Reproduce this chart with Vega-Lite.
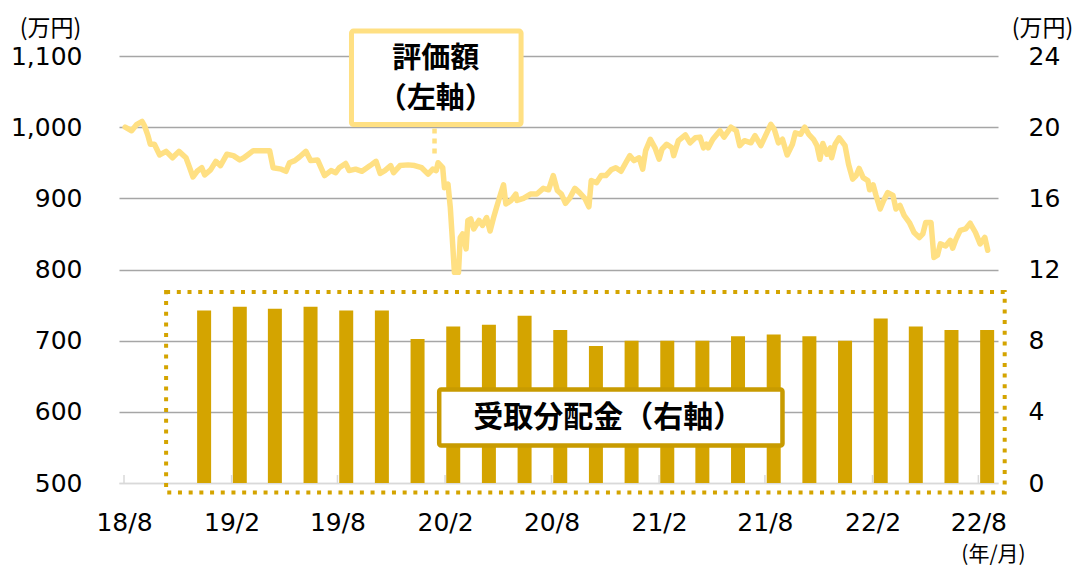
{
  "$schema": "https://vega.github.io/schema/vega-lite/v6.json",
  "width": 879,
  "height": 427,
  "autosize": {"type": "none"},
  "padding": {"left": 119, "top": 56, "right": 80, "bottom": 82},
  "config": {
    "view": {"stroke": null},
    "axis": {
      "labelFont": "DejaVu Sans",
      "labelFontSize": 25,
      "labelColor": "#000000",
      "titleFont": "Noto Sans CJK JP",
      "titleFontSize": 23,
      "titleFontWeight": "normal",
      "titleColor": "#000000"
    }
  },
  "datasets": {
    "bars": [
      {"date": "2018-12-16", "d": 9.7},
      {"date": "2019-02-15", "d": 9.9},
      {"date": "2019-04-16", "d": 9.8},
      {"date": "2019-06-16", "d": 9.9},
      {"date": "2019-08-16", "d": 9.7},
      {"date": "2019-10-16", "d": 9.7},
      {"date": "2019-12-16", "d": 8.1},
      {"date": "2020-02-15", "d": 8.8},
      {"date": "2020-04-16", "d": 8.9},
      {"date": "2020-06-16", "d": 9.4},
      {"date": "2020-08-16", "d": 8.6},
      {"date": "2020-10-16", "d": 7.7},
      {"date": "2020-12-16", "d": 8.0},
      {"date": "2021-02-15", "d": 8.0},
      {"date": "2021-04-16", "d": 8.0},
      {"date": "2021-06-16", "d": 8.25},
      {"date": "2021-08-16", "d": 8.35},
      {"date": "2021-10-16", "d": 8.25},
      {"date": "2021-12-16", "d": 8.0},
      {"date": "2022-02-15", "d": 9.25},
      {"date": "2022-04-16", "d": 8.8},
      {"date": "2022-06-16", "d": 8.6},
      {"date": "2022-08-16", "d": 8.6}
    ],
    "line": [
      {"date": "2018-08-03", "v": 1000}, {"date": "2018-08-14", "v": 995}, {"date": "2018-08-23", "v": 1004},
      {"date": "2018-09-01", "v": 1008}, {"date": "2018-09-05", "v": 1002}, {"date": "2018-09-11", "v": 988},
      {"date": "2018-09-15", "v": 976}, {"date": "2018-09-22", "v": 976}, {"date": "2018-10-01", "v": 961},
      {"date": "2018-10-12", "v": 966}, {"date": "2018-10-23", "v": 957}, {"date": "2018-11-03", "v": 966},
      {"date": "2018-11-15", "v": 957}, {"date": "2018-11-20", "v": 946}, {"date": "2018-11-27", "v": 930},
      {"date": "2018-12-04", "v": 938}, {"date": "2018-12-12", "v": 943}, {"date": "2018-12-17", "v": 933},
      {"date": "2018-12-27", "v": 940}, {"date": "2019-01-05", "v": 952}, {"date": "2019-01-13", "v": 946},
      {"date": "2019-01-24", "v": 962}, {"date": "2019-02-04", "v": 960}, {"date": "2019-02-15", "v": 954},
      {"date": "2019-02-22", "v": 957}, {"date": "2019-03-02", "v": 962}, {"date": "2019-03-10", "v": 967},
      {"date": "2019-04-07", "v": 967}, {"date": "2019-04-13", "v": 943}, {"date": "2019-04-27", "v": 941},
      {"date": "2019-05-05", "v": 938}, {"date": "2019-05-11", "v": 950}, {"date": "2019-05-20", "v": 953},
      {"date": "2019-05-28", "v": 958}, {"date": "2019-06-08", "v": 966}, {"date": "2019-06-16", "v": 953},
      {"date": "2019-06-28", "v": 954}, {"date": "2019-07-05", "v": 941}, {"date": "2019-07-10", "v": 932},
      {"date": "2019-07-21", "v": 939}, {"date": "2019-07-29", "v": 936}, {"date": "2019-08-04", "v": 943},
      {"date": "2019-08-15", "v": 949}, {"date": "2019-08-21", "v": 939}, {"date": "2019-09-01", "v": 941},
      {"date": "2019-09-12", "v": 938}, {"date": "2019-09-26", "v": 946}, {"date": "2019-10-06", "v": 952},
      {"date": "2019-10-13", "v": 935}, {"date": "2019-10-21", "v": 939}, {"date": "2019-10-31", "v": 946},
      {"date": "2019-11-05", "v": 936}, {"date": "2019-11-16", "v": 946}, {"date": "2019-11-30", "v": 947},
      {"date": "2019-12-11", "v": 946}, {"date": "2019-12-23", "v": 943}, {"date": "2020-01-03", "v": 934},
      {"date": "2020-01-11", "v": 941}, {"date": "2020-01-17", "v": 939}, {"date": "2020-01-20", "v": 950},
      {"date": "2020-01-28", "v": 943}, {"date": "2020-01-31", "v": 915}, {"date": "2020-02-06", "v": 920},
      {"date": "2020-02-10", "v": 887}, {"date": "2020-02-14", "v": 836}, {"date": "2020-02-17", "v": 796},
      {"date": "2020-02-24", "v": 796}, {"date": "2020-02-27", "v": 845}, {"date": "2020-03-02", "v": 850},
      {"date": "2020-03-08", "v": 829}, {"date": "2020-03-11", "v": 869}, {"date": "2020-03-16", "v": 871},
      {"date": "2020-03-21", "v": 857}, {"date": "2020-03-30", "v": 869}, {"date": "2020-04-05", "v": 862},
      {"date": "2020-04-12", "v": 873}, {"date": "2020-04-18", "v": 854}, {"date": "2020-04-24", "v": 873},
      {"date": "2020-04-29", "v": 887}, {"date": "2020-05-06", "v": 906}, {"date": "2020-05-11", "v": 919},
      {"date": "2020-05-15", "v": 892}, {"date": "2020-05-24", "v": 897}, {"date": "2020-06-01", "v": 906},
      {"date": "2020-06-03", "v": 897}, {"date": "2020-06-14", "v": 900}, {"date": "2020-06-26", "v": 906},
      {"date": "2020-07-07", "v": 906}, {"date": "2020-07-18", "v": 914}, {"date": "2020-07-27", "v": 912},
      {"date": "2020-08-04", "v": 932}, {"date": "2020-08-11", "v": 911}, {"date": "2020-08-18", "v": 906},
      {"date": "2020-08-25", "v": 893}, {"date": "2020-09-01", "v": 900}, {"date": "2020-09-10", "v": 914},
      {"date": "2020-09-18", "v": 908}, {"date": "2020-09-27", "v": 900}, {"date": "2020-10-04", "v": 888},
      {"date": "2020-10-08", "v": 925}, {"date": "2020-10-17", "v": 922}, {"date": "2020-10-25", "v": 932},
      {"date": "2020-11-02", "v": 932}, {"date": "2020-11-11", "v": 940}, {"date": "2020-11-19", "v": 943},
      {"date": "2020-11-28", "v": 938}, {"date": "2020-12-06", "v": 950}, {"date": "2020-12-13", "v": 960},
      {"date": "2020-12-20", "v": 953}, {"date": "2020-12-29", "v": 957}, {"date": "2021-01-04", "v": 941},
      {"date": "2021-01-09", "v": 967}, {"date": "2021-01-17", "v": 983}, {"date": "2021-01-25", "v": 971},
      {"date": "2021-02-01", "v": 955}, {"date": "2021-02-06", "v": 969}, {"date": "2021-02-14", "v": 976},
      {"date": "2021-02-23", "v": 971}, {"date": "2021-02-26", "v": 960}, {"date": "2021-03-06", "v": 981},
      {"date": "2021-03-18", "v": 989}, {"date": "2021-03-26", "v": 978}, {"date": "2021-04-04", "v": 985},
      {"date": "2021-04-12", "v": 986}, {"date": "2021-04-18", "v": 971}, {"date": "2021-04-23", "v": 976},
      {"date": "2021-04-26", "v": 971}, {"date": "2021-05-04", "v": 983}, {"date": "2021-05-16", "v": 995},
      {"date": "2021-05-23", "v": 986}, {"date": "2021-06-04", "v": 1000}, {"date": "2021-06-13", "v": 995},
      {"date": "2021-06-19", "v": 974}, {"date": "2021-06-27", "v": 981}, {"date": "2021-07-08", "v": 978},
      {"date": "2021-07-15", "v": 988}, {"date": "2021-07-25", "v": 974}, {"date": "2021-08-03", "v": 990},
      {"date": "2021-08-11", "v": 1004}, {"date": "2021-08-17", "v": 997}, {"date": "2021-08-24", "v": 978},
      {"date": "2021-08-31", "v": 983}, {"date": "2021-09-08", "v": 961}, {"date": "2021-09-17", "v": 976},
      {"date": "2021-09-22", "v": 992}, {"date": "2021-10-01", "v": 990}, {"date": "2021-10-08", "v": 1000},
      {"date": "2021-10-15", "v": 990}, {"date": "2021-10-23", "v": 983}, {"date": "2021-10-29", "v": 974},
      {"date": "2021-11-03", "v": 955}, {"date": "2021-11-08", "v": 977}, {"date": "2021-11-15", "v": 962},
      {"date": "2021-11-21", "v": 971}, {"date": "2021-11-23", "v": 957}, {"date": "2021-11-29", "v": 976},
      {"date": "2021-12-06", "v": 985}, {"date": "2021-12-16", "v": 974}, {"date": "2021-12-22", "v": 948},
      {"date": "2021-12-29", "v": 927}, {"date": "2022-01-04", "v": 932}, {"date": "2022-01-09", "v": 942},
      {"date": "2022-01-16", "v": 929}, {"date": "2022-01-24", "v": 925}, {"date": "2022-01-27", "v": 912},
      {"date": "2022-02-02", "v": 919}, {"date": "2022-02-07", "v": 904}, {"date": "2022-02-14", "v": 885},
      {"date": "2022-02-20", "v": 897}, {"date": "2022-02-27", "v": 908}, {"date": "2022-03-08", "v": 904},
      {"date": "2022-03-13", "v": 885}, {"date": "2022-03-20", "v": 890}, {"date": "2022-03-27", "v": 876},
      {"date": "2022-04-05", "v": 866}, {"date": "2022-04-13", "v": 852}, {"date": "2022-04-22", "v": 845},
      {"date": "2022-04-28", "v": 850}, {"date": "2022-05-03", "v": 866}, {"date": "2022-05-12", "v": 866},
      {"date": "2022-05-17", "v": 817}, {"date": "2022-05-23", "v": 820}, {"date": "2022-05-28", "v": 836},
      {"date": "2022-06-06", "v": 833}, {"date": "2022-06-14", "v": 841}, {"date": "2022-06-18", "v": 830},
      {"date": "2022-06-24", "v": 843}, {"date": "2022-07-01", "v": 855}, {"date": "2022-07-10", "v": 857},
      {"date": "2022-07-18", "v": 865}, {"date": "2022-07-27", "v": 852}, {"date": "2022-08-04", "v": 836},
      {"date": "2022-08-12", "v": 845}, {"date": "2022-08-17", "v": 827}
    ],
    "ticks": [
      {"date": "2018-08-01", "v": 500, "v2": 511.2},
      {"date": "2019-02-01", "v": 500, "v2": 511.2},
      {"date": "2019-08-01", "v": 500, "v2": 511.2},
      {"date": "2020-02-01", "v": 500, "v2": 511.2},
      {"date": "2020-08-01", "v": 500, "v2": 511.2},
      {"date": "2021-02-01", "v": 500, "v2": 511.2},
      {"date": "2021-08-01", "v": 500, "v2": 511.2},
      {"date": "2022-02-01", "v": 500, "v2": 511.2},
      {"date": "2022-08-01", "v": 500, "v2": 511.2}
    ],
    "connector": [{"date": "2020-01-14", "v": 998, "v2": 958}],
    "box1": [{"date": "2019-08-25", "date2": "2020-06-10", "v": 1135, "v2": 1003.7}],
    "label1": [
      {"date": "2020-01-16", "v": 1096, "t": "評価額"},
      {"date": "2020-01-16", "v": 1040, "t": "（左軸）"}
    ],
    "box2": [{"date": "2018-10-12", "date2": "2022-09-15", "v": 768.4, "v2": 486.7}],
    "box3": [{"date": "2020-01-22", "date2": "2021-08-31", "v": 631.4, "v2": 552.7}],
    "label2": [{"date": "2020-11-06", "v": 591.4, "t": "受取分配金（右軸）"}]
  },
  "encoding": {
    "x": {
      "field": "date",
      "type": "temporal",
      "scale": {
        "type": "utc",
        "domain": [
          {"year": 2018, "month": 8, "date": 1, "utc": true},
          {"year": 2022, "month": 8, "date": 26, "utc": true}
        ]
      },
      "axis": {
        "values": [
          {"year": 2018, "month": 8, "date": 1, "utc": true},
          {"year": 2019, "month": 2, "date": 1, "utc": true},
          {"year": 2019, "month": 8, "date": 1, "utc": true},
          {"year": 2020, "month": 2, "date": 1, "utc": true},
          {"year": 2020, "month": 8, "date": 1, "utc": true},
          {"year": 2021, "month": 2, "date": 1, "utc": true},
          {"year": 2021, "month": 8, "date": 1, "utc": true},
          {"year": 2022, "month": 2, "date": 1, "utc": true},
          {"year": 2022, "month": 8, "date": 1, "utc": true}
        ],
        "format": "%y/%-m",
        "labelPadding": 27,
        "labelFlush": false,
        "labelOverlap": false,
        "ticks": false,
        "grid": false,
        "domainColor": "#D9D9D9",
        "domainWidth": 1.5,
        "title": "(年/月)",
        "titleX": 874,
        "titleY": 71,
        "titleFontSize": 21,
        "titleAngle": 0,
        "titleAlign": "center",
        "titleBaseline": "middle"
      }
    }
  },
  "layer": [
    {
      "data": {"name": "bars"},
      "mark": {"type": "bar", "size": 14, "color": "#D4A400"},
      "encoding": {
        "y": {
          "field": "d",
          "type": "quantitative",
          "scale": {"domain": [0, 24], "nice": false},
          "axis": {
            "orient": "right",
            "values": [0, 4, 8, 12, 16, 20, 24],
            "grid": false,
            "domain": false,
            "ticks": false,
            "labelPadding": 30,
            "labelAlign": "left",
            "title": "(万円)",
            "titleX": 44,
            "titleY": -28,
            "titleAngle": 0,
            "titleAlign": "center",
            "titleBaseline": "middle"
          }
        }
      }
    },
    {
      "encoding": {
        "y": {
          "field": "v",
          "type": "quantitative",
          "scale": {"domain": [500, 1100], "nice": false, "zero": false},
          "axis": {
            "orient": "left",
            "values": [500, 600, 700, 800, 900, 1000, 1100],
            "format": ",.0f",
            "grid": true,
            "gridColor": {"condition": {"test": "datum.value === 500", "value": "#D9D9D9"}, "value": "#A6A6A6"},
            "gridWidth": 1.5,
            "domain": false,
            "ticks": false,
            "labelPadding": 37,
            "title": "(万円)",
            "titleX": -69,
            "titleY": -28,
            "titleAngle": 0,
            "titleAlign": "center",
            "titleBaseline": "middle"
          }
        }
      },
      "layer": [
        {
          "data": {"name": "ticks"},
          "mark": {"type": "rule", "color": "#D9D9D9", "strokeWidth": 1.5},
          "encoding": {"y2": {"field": "v2"}}
        },
        {
          "data": {"name": "line"},
          "mark": {"type": "line", "color": "#FFE083", "strokeWidth": 5.5, "strokeJoin": "round", "strokeCap": "round"},
          "encoding": {}
        },
        {
          "data": {"name": "connector"},
          "mark": {"type": "rule", "color": "#FFE083", "strokeWidth": 4.5, "strokeDash": [5, 5]},
          "encoding": {"y2": {"field": "v2"}}
        },
        {
          "data": {"name": "box1"},
          "mark": {"type": "rect", "fill": "#FFFFFF", "stroke": "#FFE083", "strokeWidth": 5, "cornerRadius": 2},
          "encoding": {"x2": {"field": "date2"}, "y2": {"field": "v2"}}
        },
        {
          "data": {"name": "label1"},
          "mark": {"type": "text", "font": "Noto Sans CJK JP", "fontSize": 29, "fontWeight": "bold", "color": "#000000", "align": "center", "baseline": "middle"},
          "encoding": {"text": {"field": "t"}}
        },
        {
          "data": {"name": "box2"},
          "mark": {"type": "rect", "fillOpacity": 0, "stroke": "#D4A400", "strokeWidth": 4, "strokeDash": [4, 6.7]},
          "encoding": {"x2": {"field": "date2"}, "y2": {"field": "v2"}}
        },
        {
          "data": {"name": "box3"},
          "mark": {"type": "rect", "fill": "#FFFFFF", "stroke": "#C89B00", "strokeWidth": 4.5, "cornerRadius": 2},
          "encoding": {"x2": {"field": "date2"}, "y2": {"field": "v2"}}
        },
        {
          "data": {"name": "label2"},
          "mark": {"type": "text", "font": "Noto Sans CJK JP", "fontSize": 30, "fontWeight": "bold", "color": "#000000", "align": "center", "baseline": "middle"},
          "encoding": {"text": {"field": "t"}}
        }
      ]
    }
  ],
  "resolve": {"scale": {"y": "independent"}}
}
